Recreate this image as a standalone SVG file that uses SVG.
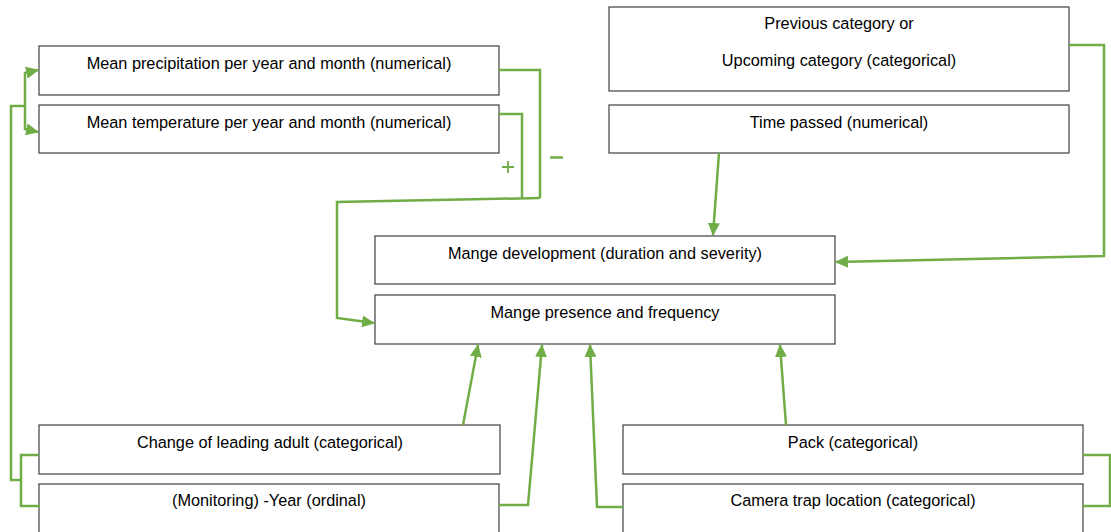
<svg xmlns="http://www.w3.org/2000/svg" width="1111" height="532" viewBox="0 0 1111 532">
<style>
.box{fill:#ffffff;stroke:#404040;stroke-width:1.2}
.lbl{font-family:"Liberation Sans",Arial,sans-serif;font-size:16.3px;fill:#000;text-anchor:middle}
.c{fill:none;stroke:#70AD47;stroke-width:2.5;stroke-linejoin:miter}
.sign{font-family:"Liberation Sans",Arial,sans-serif;fill:#70AD47;text-anchor:middle}
</style>
<defs>
<marker id="ah" markerUnits="userSpaceOnUse" markerWidth="14" markerHeight="12" refX="12" refY="6" orient="auto">
<path d="M0,0 L13,6 L0,12 Z" fill="#70AD47"/>
</marker>
</defs>
<rect width="1111" height="532" fill="#ffffff"/>
<g id="n-precip"><rect class="box" x="39" y="46" width="460" height="49"/><text class="lbl" x="269" y="69">Mean precipitation per year and month (numerical)</text></g>
<g id="n-temp"><rect class="box" x="39" y="105" width="460" height="48"/><text class="lbl" x="269" y="128">Mean temperature per year and month (numerical)</text></g>
<g id="n-prev"><rect class="box" x="609" y="7" width="460" height="84"/><text class="lbl" x="839" y="29">Previous category or</text><text class="lbl" x="839" y="66">Upcoming category (categorical)</text></g>
<g id="n-time"><rect class="box" x="609" y="105" width="460" height="48"/><text class="lbl" x="839" y="128">Time passed (numerical)</text></g>
<g id="n-dev"><rect class="box" x="375" y="236" width="460" height="48"/><text class="lbl" x="605" y="259">Mange development (duration and severity)</text></g>
<g id="n-pres"><rect class="box" x="375" y="295" width="460" height="49"/><text class="lbl" x="605" y="318">Mange presence and frequency</text></g>
<g id="n-adult"><rect class="box" x="39" y="425" width="461" height="49"/><text class="lbl" x="270" y="448">Change of leading adult (categorical)</text></g>
<g id="n-year"><rect class="box" x="39" y="484" width="460" height="60"/><text class="lbl" x="269" y="506">(Monitoring) -Year (ordinal)</text></g>
<g id="n-pack"><rect class="box" x="623" y="425" width="460" height="49"/><text class="lbl" x="853" y="448">Pack (categorical)</text></g>
<g id="n-cam"><rect class="box" x="623" y="484" width="460" height="60"/><text class="lbl" x="853" y="506">Camera trap location (categorical)</text></g>
<g id="connectors">
<path class="c" d="M39,455 H21 V506 H40"/>
<path class="c" d="M21,480 H11 V106 H25"/>
<path class="c" d="M25,106 V73 L38,70" marker-end="url(#ah)"/>
<path class="c" d="M25,106 V129 L38,132" marker-end="url(#ah)"/>
<path class="c" d="M499,70 H540 V198"/>
<path class="c" d="M499,114 H522 V199"/>
<path class="c" d="M540,198 L337,202 V318 L374,323" marker-end="url(#ah)"/>
<path class="c" d="M1069,45 H1104 V256 L836,262" marker-end="url(#ah)"/>
<path class="c" d="M719,153 L713,235" marker-end="url(#ah)"/>
<path class="c" d="M463,425 L478,345" marker-end="url(#ah)"/>
<path class="c" d="M499,505 H528 L542,345" marker-end="url(#ah)"/>
<path class="c" d="M623,507 H597 L590,345" marker-end="url(#ah)"/>
<path class="c" d="M786,425 L780,345" marker-end="url(#ah)"/>
<path class="c" d="M1083,455 H1110 V506 H1083"/>
<path d="M502,167 H514 M508,161 V173" stroke="#70AD47" stroke-width="1.8" fill="none"/>
<path d="M550,157.5 H563" stroke="#70AD47" stroke-width="2.5"/>
</g>
</svg>
